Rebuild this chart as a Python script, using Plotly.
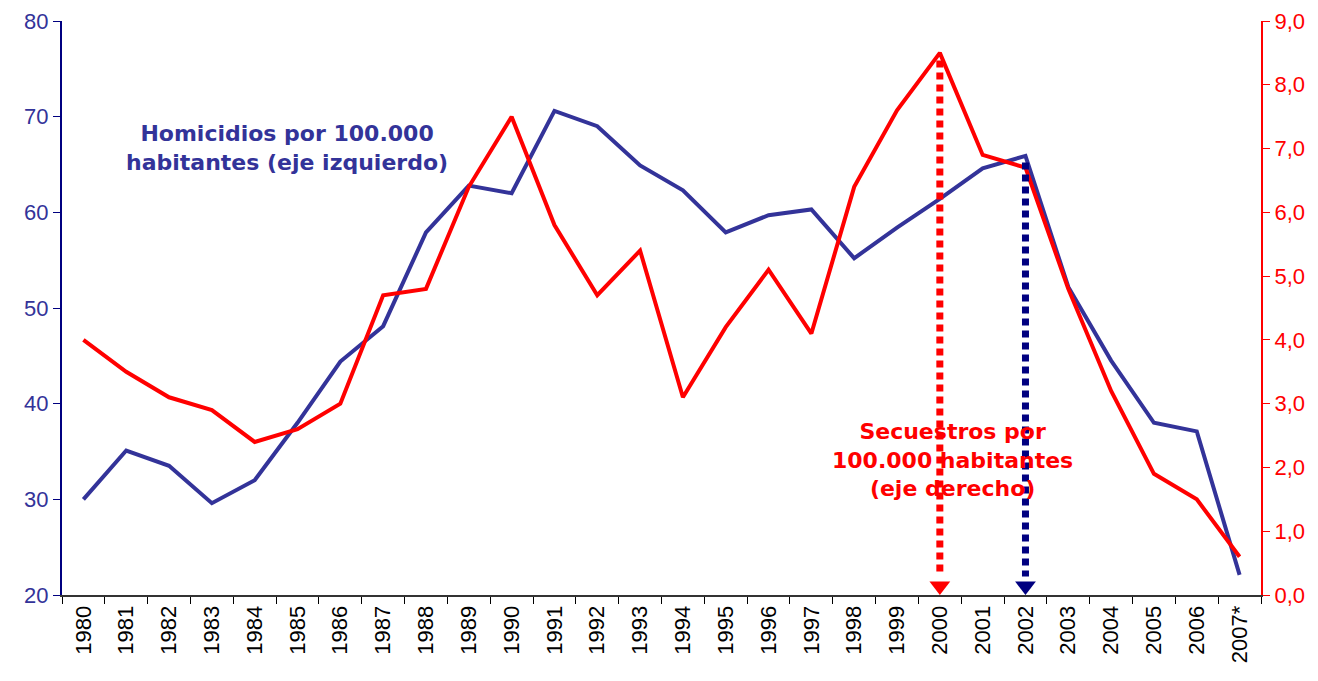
import plotly.graph_objects as go

# Datos
anios = [str(a) for a in range(1980, 2007)] + ["2007*"]

homicidios = [30.0, 35.1, 33.5, 29.6, 32.0, 38.0, 44.4, 48.1, 57.9, 62.8,
              62.0, 70.6, 69.0, 64.9, 62.3, 57.9, 59.7, 60.3, 55.2, 58.4,
              61.4, 64.6, 65.9, 52.2, 44.5, 38.0, 37.1, 22.1]

secuestros = [4.0, 3.5, 3.1, 2.9, 2.4, 2.6, 3.0, 4.7, 4.8, 6.4,
              7.5, 5.8, 4.7, 5.4, 3.1, 4.2, 5.1, 4.1, 6.4, 7.6,
              8.5, 6.9, 6.7, 4.8, 3.2, 1.9, 1.5, 0.6]

flecha_roja = {"x": "2000", "y_ini": 8.38, "y_fin": 0.14}
flecha_azul = {"x": "2002", "y_ini": 6.78, "y_fin": 0.14}

AZUL = "#333399"
AZUL_OSC = "#000080"
ROJO = "#FF0000"

fig = go.Figure()

fig.add_trace(go.Scatter(
    x=anios, y=homicidios, mode="lines",
    line=dict(color=AZUL, width=4), yaxis="y", showlegend=False
))
fig.add_trace(go.Scatter(
    x=anios, y=secuestros, mode="lines",
    line=dict(color=ROJO, width=4), yaxis="y2", showlegend=False
))

# Flechas punteadas
for fl, col in [(flecha_roja, ROJO), (flecha_azul, AZUL_OSC)]:
    fig.add_trace(go.Scatter(
        x=[fl["x"], fl["x"]], y=[fl["y_ini"], fl["y_fin"] + 0.15],
        mode="lines", line=dict(color=col, width=7, dash="7px,5px"),
        yaxis="y2", showlegend=False
    ))
    fig.add_trace(go.Scatter(
        x=[fl["x"]], y=[fl["y_fin"]], mode="markers",
        marker=dict(symbol="triangle-down", size=18, color=col),
        yaxis="y2", showlegend=False, cliponaxis=False
    ))

fig.add_annotation(
    text="<b>Homicidios por 100.000<br>habitantes (eje izquierdo)</b>",
    xref="paper", yref="paper", x=(287 - 62) / 1199, y=(595 - 148) / 574,
    xanchor="center", yanchor="middle",
    showarrow=False, align="center",
    font=dict(family="DejaVu Sans", size=22, color=AZUL)
)
fig.add_annotation(
    text="<b>Secuestros por<br>100.000 habitantes<br>(eje derecho)</b>",
    xref="paper", yref="paper", x=(952 - 62) / 1199, y=(595 - 460) / 574,
    xanchor="center", yanchor="middle",
    showarrow=False, align="center",
    font=dict(family="DejaVu Sans", size=22, color=ROJO)
)

# la página añade 8 px de margen al cuerpo
fig.update_layout(
    width=1310, height=673,
    margin=dict(l=54, r=57, t=13, b=86),
    paper_bgcolor="white", plot_bgcolor="white",
    separators=",.",
    font=dict(family="Liberation Sans, Arial", size=20),
    xaxis=dict(
        type="category", range=[-0.5, len(anios) - 0.5],
        tickangle=-90, tickson="boundaries",
        ticks="outside", ticklen=7, tickcolor="black", automargin=False,
        showline=True, linecolor="#333333", linewidth=2,
        showgrid=False, tickfont=dict(size=22, color="black"),
        ticklabeloverflow="allow",
    ),
    yaxis=dict(
        range=[20, 80], dtick=10, showgrid=False, zeroline=False,
        showline=True, linecolor=AZUL_OSC, linewidth=2, automargin=False,
        ticks="outside", ticklen=7, tickcolor=AZUL_OSC,
        tickfont=dict(size=22, color=AZUL), ticklabeloverflow="allow",
    ),
    yaxis2=dict(
        range=[0, 9], dtick=1, tickformat=".1f", overlaying="y", side="right",
        showgrid=False, zeroline=False, automargin=False,
        showline=True, linecolor=ROJO, linewidth=2,
        ticks="outside", ticklen=7, tickcolor=ROJO,
        tickfont=dict(size=22, color=ROJO), ticklabeloverflow="allow",
    ),
    yaxis3=dict(
        range=[0, 9], dtick=1, overlaying="y", side="right",
        showgrid=False, zeroline=False, showticklabels=False, automargin=False,
        ticks="inside", ticklen=7, tickcolor=ROJO,
    ),
)

fig.write_html("out.html")
